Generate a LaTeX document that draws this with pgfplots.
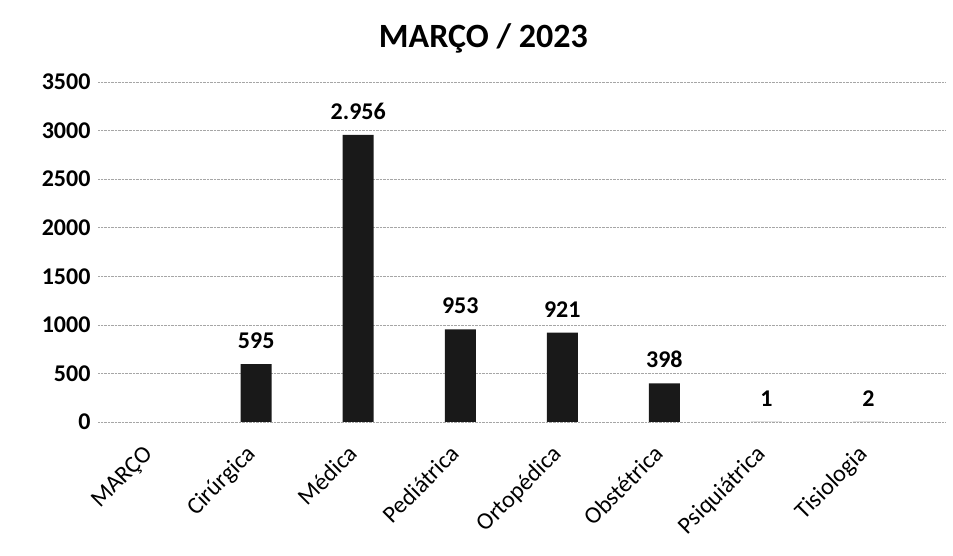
\documentclass[border=0pt]{standalone}
\usepackage{pgfplots}
\pgfplotsset{compat=1.18}
\usepackage{fontspec}
\setmainfont{Carlito}
\begin{document}
\begin{tikzpicture}
\begin{axis}[
  at={(98bp,134bp)}, anchor=south west,
  scale only axis,
  width=847bp, height=340bp,
  xmin=-0.55, xmax=7.75,
  ymin=0, ymax=3500,
  ytick={0,500,...,3500},
  xtick={0,...,7},
  xticklabels={MARÇO, Cirúrgica, Médica, Pediátrica, Ortopédica, Obstétrica, Psiquiátrica, Tisiologia},
  axis line style={draw=none},
  tick style={draw=none},
  ymajorgrids,
  grid style={densely dotted, gray!70, line width=0.6pt},
  /pgf/number format/assume math mode=true,
  yticklabel style={font=\fontsize{24bp}{28bp}\selectfont\bfseries, /pgf/number format/1000 sep={}, xshift=-4bp},
  xticklabel style={font=\fontsize{24bp}{28bp}\selectfont, rotate=45, anchor=north east, yshift=-1bp, xshift=-17bp},
  title={MARÇO / 2023},
  title style={font=\fontsize{34bp}{38bp}\selectfont\bfseries, at={(0.455,1)}, anchor=center, yshift=38bp},
  ybar, bar width=31bp,
  nodes near coords,
  nodes near coords style={font=\fontsize{24bp}{28bp}\selectfont\bfseries, /pgf/number format/1000 sep={.}, text=black, yshift=12bp},
]
\addplot[fill=black!90, draw=none] coordinates {(1,595) (2,2956) (3,953) (4,921) (5,398) (6,1) (7,2)};
\end{axis}
\path[use as bounding box] (0,0) rectangle (953bp,556bp);
\end{tikzpicture}
\end{document}
